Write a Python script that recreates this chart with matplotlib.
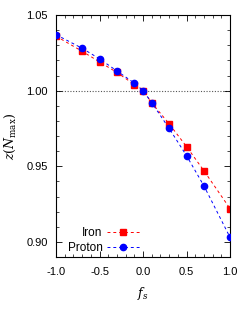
import matplotlib
matplotlib.use("Agg")
import matplotlib.pyplot as plt
from matplotlib.ticker import MultipleLocator

plt.rcParams['font.family'] = ['Liberation Sans', 'DejaVu Sans']
plt.rcParams['mathtext.fontset'] = 'dejavuserif'

# data
fs = [-1.0, -0.7, -0.5, -0.3, -0.1, 0.0, 0.1, 0.3, 0.5, 0.7, 1.0]
iron = [1.036, 1.026, 1.019, 1.012, 1.004, 1.000, 0.992, 0.978, 0.963, 0.947, 0.922]
proton = [1.037, 1.028, 1.021, 1.013, 1.005, 1.000, 0.992, 0.975, 0.957, 0.937, 0.903]

fig = plt.figure(figsize=(2.49, 3.12), dpi=100)
ax = fig.add_axes([0.225, 0.176, 0.699, 0.776])

ax.axhline(1.0, color='#555555', lw=0.8, ls=(0, (1, 1.5)), zorder=1)
ax.plot(fs, iron, color='red', ls=(0, (3, 3)), lw=0.7, marker='s', ms=4.5,
        label='Iron', zorder=2)
ax.plot(fs, proton, color='blue', ls=(0, (3, 3)), lw=0.7, marker='o', ms=4.5,
        label='Proton', zorder=3)

ax.set_xlim(-1.0, 1.0)
ax.set_ylim(0.89, 1.05)
ax.xaxis.set_major_locator(MultipleLocator(0.5))
ax.xaxis.set_minor_locator(MultipleLocator(0.1))
ax.yaxis.set_major_locator(MultipleLocator(0.05))
ax.yaxis.set_minor_locator(MultipleLocator(0.01))
ax.xaxis.set_major_formatter(plt.FormatStrFormatter('%.1f'))
ax.yaxis.set_major_formatter(plt.FormatStrFormatter('%.2f'))
ax.tick_params(which='both', direction='in', top=True, right=True, labelsize=8)
ax.tick_params(which='major', length=4, width=0.6, pad=6)
ax.tick_params(axis='x', which='major', pad=7)
ax.tick_params(which='minor', length=2, width=0.5)
for s in ax.spines.values():
    s.set_linewidth(0.8)

ax.set_xlabel(r'$f_s$', fontsize=9, labelpad=6)
ax.set_ylabel(r'$z(N_{\mathrm{max}})$', fontsize=9, labelpad=6)

ax.legend(loc='lower left', markerfirst=False, frameon=False, fontsize=8.5,
          handlelength=2.8, handletextpad=0.35, borderaxespad=0.3,
          labelspacing=0.25, bbox_to_anchor=(0.02, -0.022))

fig.savefig('out.png', dpi=100)
